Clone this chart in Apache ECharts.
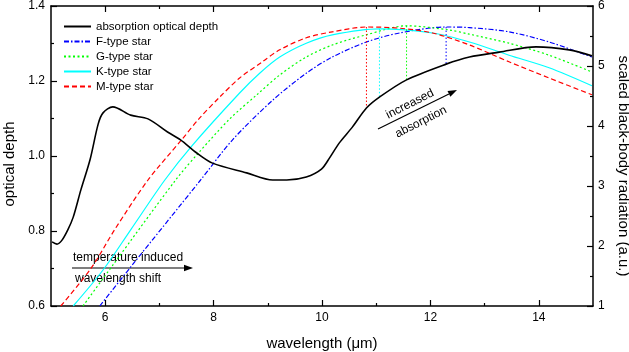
<!DOCTYPE html>
<html>
<head>
<meta charset="utf-8">
<script src="https://cdn.jsdelivr.net/npm/echarts@6/dist/echarts.min.js"></script>
<style>
  html, body { margin: 0; padding: 0; background: #fff; }
  #chart { width: 629px; height: 352px; }
</style>
</head>
<body>
<div id="chart"></div>
<script>
// absorption optical depth, [wavelength (um), optical depth]
var absorption = [
  [5.02, 0.771], [5.11, 0.765], [5.2, 0.775], [5.31, 0.803], [5.41, 0.837],
  [5.55, 0.909], [5.72, 0.99], [5.87, 1.085], [5.96, 1.115], [6.14, 1.131],
  [6.47, 1.109], [6.79, 1.099], [7.15, 1.064], [7.39, 1.043], [7.69, 1.008],
  [7.98, 0.981], [8.61, 0.955], [9.09, 0.936], [9.35, 0.936], [9.71, 0.944],
  [9.99, 0.965], [10.14, 0.995], [10.32, 1.035], [10.56, 1.077], [10.82, 1.128],
  [11.06, 1.157], [11.56, 1.203], [12.29, 1.245], [12.72, 1.264], [13.27, 1.277],
  [13.95, 1.291], [14.56, 1.283], [14.98, 1.267]
];
// scaled black-body radiation, [wavelength (um), a.u.]
var fStar = [
  [5.9, 1.0], [6.47, 1.65], [7.76, 3.1], [8.35, 3.77], [9.09, 4.43], [9.71, 4.88],
  [10.19, 5.15], [10.82, 5.4], [11.43, 5.55], [12.29, 5.65], [12.72, 5.64],
  [13.45, 5.57], [14.19, 5.4], [14.98, 5.15]
];
var gStar = [
  [5.59, 1.0], [6.14, 1.68], [7.3, 3.1], [7.74, 3.57], [8.3, 4.12], [8.81, 4.53],
  [9.22, 4.85], [9.71, 5.15], [10.19, 5.35], [10.82, 5.52], [11.56, 5.67],
  [12.35, 5.6], [12.72, 5.53], [13.45, 5.38], [14.19, 5.18], [14.98, 4.9]
];
var kStar = [
  [5.41, 1.0], [5.96, 1.6], [6.47, 2.27], [7.1, 3.1], [7.6, 3.67], [8.48, 4.55],
  [8.85, 4.88], [9.22, 5.15], [9.71, 5.38], [10.19, 5.52], [11.06, 5.62],
  [12.04, 5.55], [12.72, 5.4], [13.45, 5.18], [14.19, 4.97], [14.98, 4.67]
];
var mStar = [
  [5.18, 1.0], [5.74, 1.63], [6.18, 2.28], [6.79, 3.1], [7.41, 3.77], [7.74, 4.13],
  [8.11, 4.48], [8.48, 4.8], [8.9, 5.07], [9.22, 5.27], [9.71, 5.47], [10.19, 5.57],
  [10.82, 5.65], [11.43, 5.63], [12.04, 5.55], [12.72, 5.35], [13.45, 5.07],
  [14.19, 4.8], [14.98, 4.52]
];
// peak markers (M, K, G, F): wavelength, peak value, value where it meets the absorption curve
var markerWl = [10.82, 11.06, 11.56, 12.29];
var markerTop = [5.65, 5.62, 5.67, 5.65];
var markerBottom = [4.3, 4.48, 4.77, 5.03];

var xMajor = [6, 8, 10, 12, 14];
var xMinor = [7, 9, 11, 13];

var FONT = '"Liberation Sans", Arial, Helvetica, sans-serif';
var markerColors = ['#ff0000', '#00ffff', '#00ff00', '#0000ff'];

function xAxisDef(grid, pos, ticks, len, withLabels) {
  return {
    type: 'value', gridIndex: grid, position: pos, min: 5, max: 15,
    axisLine: { show: len > 4, lineStyle: { color: '#000', width: 1.5 } },
    axisTick: { show: true, inside: true, length: len, customValues: ticks,
      lineStyle: { color: '#000', width: 1.2 } },
    axisLabel: withLabels
      ? { show: true, customValues: ticks, margin: 6, color: '#000', fontSize: 12, fontFamily: FONT }
      : { show: false },
    splitLine: { show: false }
  };
}

function yAxisDef(pos, min, max, interval) {
  return {
    type: 'value', gridIndex: 0, position: pos, min: min, max: max, interval: interval,
    axisLine: { show: true, lineStyle: { color: '#000', width: 1.5 } },
    axisTick: { show: true, inside: true, length: 6, lineStyle: { color: '#000', width: 1.2 } },
    minorTick: { show: true, splitNumber: 2, length: 3, lineStyle: { color: '#000', width: 1.2 } },
    axisLabel: { margin: 6, color: '#000', fontSize: 12, fontFamily: FONT },
    splitLine: { show: false },
    minorSplitLine: { show: false },
    nameLocation: 'middle',
    nameTextStyle: { color: '#000', fontSize: 15, fontFamily: FONT }
  };
}

var xBottom = xAxisDef(0, 'bottom', xMajor, 6, true);
xBottom.name = 'wavelength (\u03bcm)';
xBottom.nameLocation = 'middle';
xBottom.nameGap = 30;
xBottom.nameTextStyle = { color: '#000', fontSize: 15, fontFamily: FONT };

var yLeft = yAxisDef('left', 0.6, 1.4, 0.2);
yLeft.name = 'optical depth';
yLeft.nameGap = 34;
yLeft.nameTextStyle.padding = [0, 16, 0, 0];
yLeft.axisLabel.formatter = function (v) { return v.toFixed(1); };

var yRight = yAxisDef('right', 1, 6, 1);
yRight.name = 'scaled black-body radiation (a.u.)';
yRight.nameGap = 19;
yRight.nameRotate = -90;
yRight.nameTextStyle.padding = [0, 0, 0, 20];
yRight.axisLabel.margin = 5;

function starSeries(name, data, color, type) {
  return {
    name: name, type: 'line', xAxisIndex: 0, yAxisIndex: 1, data: data,
    symbol: 'none', smooth: 0.3,
    lineStyle: { color: color, width: 1.2, type: type },
    itemStyle: { color: color }
  };
}

var series = [
  starSeries('F-type star', fStar, '#0000ff', [5, 2, 1.5, 2]),
  starSeries('G-type star', gStar, '#00ff00', [2, 2.5]),
  starSeries('K-type star', kStar, '#00ffff', 'solid'),
  starSeries('M-type star', mStar, '#ff0000', [5, 3])
];
for (var i = 0; i < markerWl.length; i++) {
  series.push({
    name: 'peak' + i, type: 'line', xAxisIndex: 0, yAxisIndex: 1, symbol: 'none',
    data: [[markerWl[i], markerTop[i]], [markerWl[i], markerBottom[i]]],
    lineStyle: { color: markerColors[i], width: 1, type: [1.5, 2] }
  });
}
series.push({
  name: 'absorption optical depth', type: 'line', xAxisIndex: 0, yAxisIndex: 0,
  data: absorption, symbol: 'none', smooth: 0.3, z: 5,
  lineStyle: { color: '#000', width: 1.6 }, itemStyle: { color: '#000' }
});

function arrow(x1, y1, x2, y2) {
  var a = Math.atan2(y2 - y1, x2 - x1), L = 9, W = 3.2;
  var bx = x2 - L * Math.cos(a), by = y2 - L * Math.sin(a);
  return [
    { type: 'line', shape: { x1: x1, y1: y1, x2: bx, y2: by }, style: { stroke: '#000', lineWidth: 1.2 } },
    { type: 'polygon', shape: { points: [[x2, y2],
      [bx - W * Math.sin(a), by + W * Math.cos(a)], [bx + W * Math.sin(a), by - W * Math.cos(a)]] },
      style: { fill: '#000' } }
  ];
}
function label(text, x, y, align, rot) {
  return { type: 'text', x: x, y: y, rotation: rot || 0,
    style: { text: text, fill: '#000', fontSize: 12, fontFamily: FONT, align: align, verticalAlign: 'middle' } };
}

var graphics = [].concat(
  arrow(72, 268, 193, 268),
  arrow(378, 129, 457, 90),
  [
    label('temperature induced', 73, 258, 'left'),
    label('wavelength shift', 75, 279, 'left'),
    label('increased', 410, 104, 'center', 0.47),
    label('absorption', 421, 122, 'center', 0.47)
  ]
);

var chart = echarts.init(document.getElementById('chart'));
chart.setOption({
  animation: false,
  backgroundColor: '#fff',
  grid: [
    { left: 51, right: 36, top: 6, bottom: 46, outerBoundsMode: 'none' },
    { left: 51, right: 36, top: 6, bottom: 46, outerBoundsMode: 'none' }
  ],
  legend: {
    data: ['absorption optical depth', 'F-type star', 'G-type star', 'K-type star', 'M-type star'],
    orient: 'vertical', left: 58, top: 15.5, itemWidth: 27, itemHeight: 12, itemGap: 3,
    itemStyle: { opacity: 0 },
    textStyle: { color: '#000', fontSize: 11.5, fontFamily: FONT }
  },
  xAxis: [
    xBottom,
    xAxisDef(0, 'top', xMajor, 6, false),
    xAxisDef(1, 'bottom', xMinor, 3, false),
    xAxisDef(1, 'top', xMinor, 3, false)
  ],
  yAxis: [
    yLeft,
    yRight,
    { type: 'value', gridIndex: 1, show: false, min: 0, max: 1 }
  ],
  series: series,
  graphic: graphics
});
</script>
</body>
</html>
